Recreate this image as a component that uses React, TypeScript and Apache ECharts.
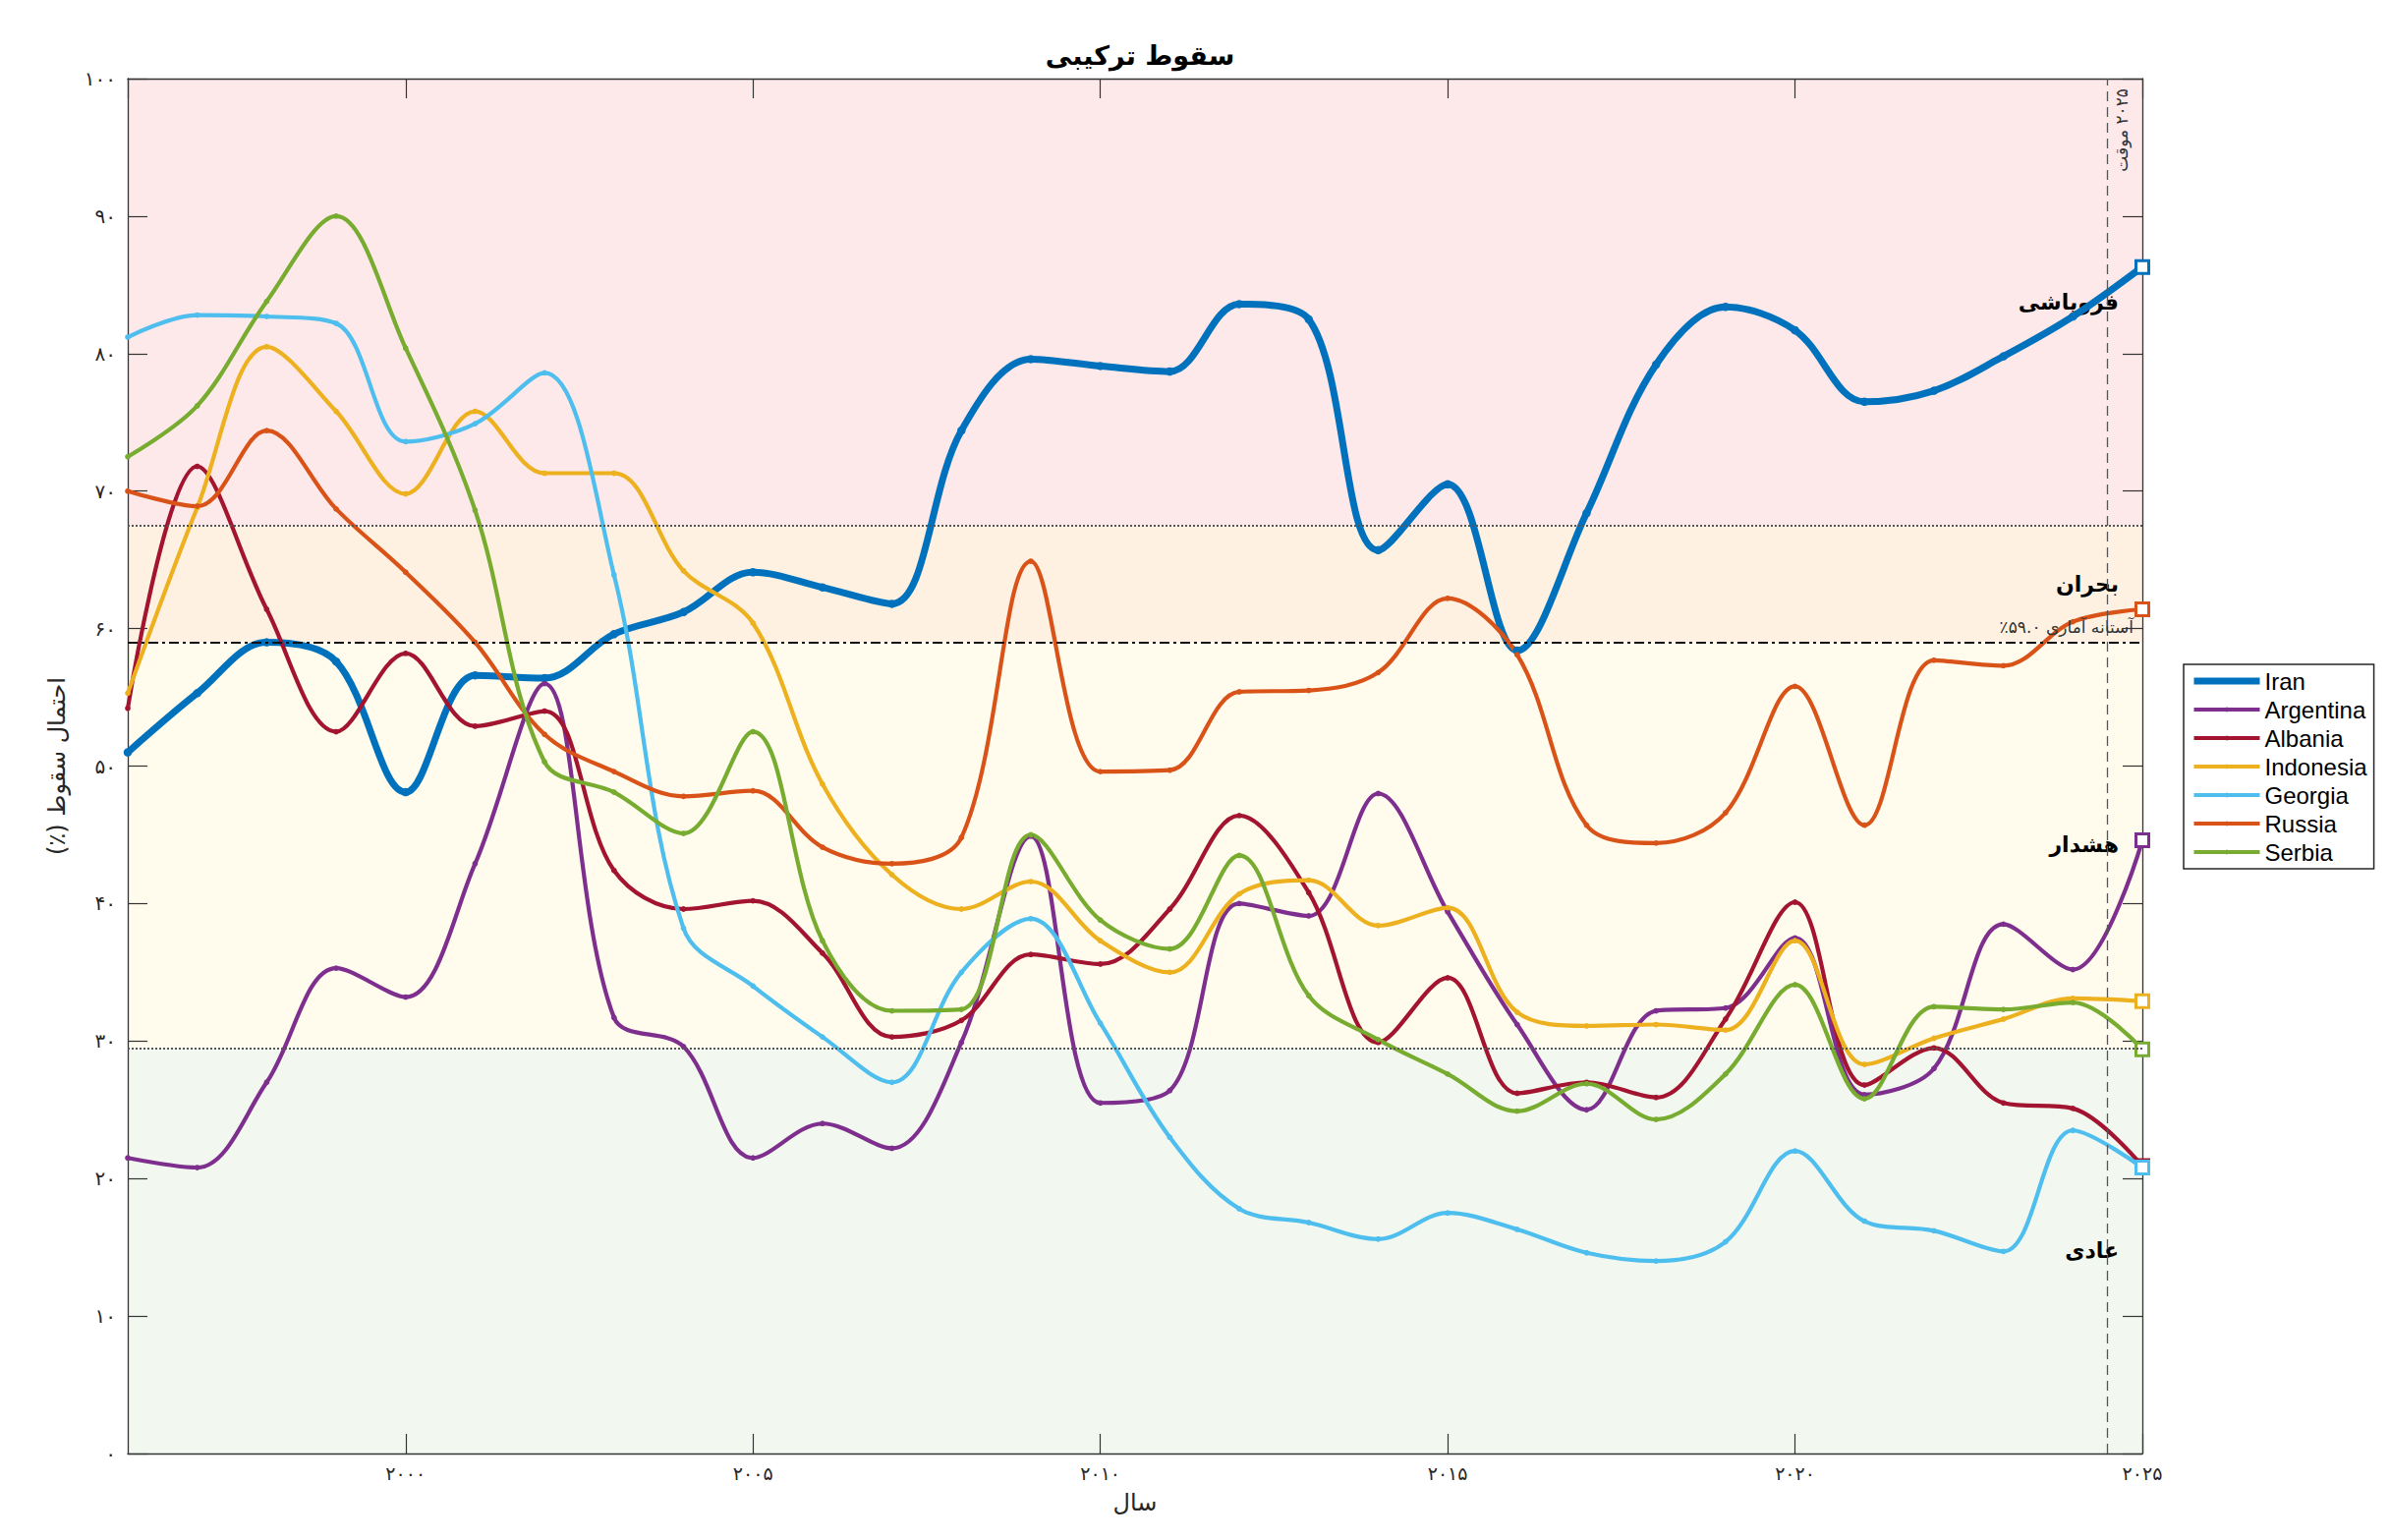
import React, { useEffect, useRef } from 'react';
import * as echarts from 'echarts';

// ---------------- data ----------------
const YEARS = [1996, 1997, 1998, 1999, 2000, 2001, 2002, 2003, 2004, 2005, 2006, 2007, 2008, 2009, 2010, 2011, 2012, 2013, 2014, 2015, 2016, 2017, 2018, 2019, 2020, 2021, 2022, 2023, 2024, 2025];

const IRAN = [51.0, 55.3, 59.0, 57.6, 48.1, 56.6, 56.4, 59.6, 61.2, 64.1, 63.0, 61.8, 74.4, 79.6, 79.1, 78.7, 83.6, 82.5, 65.7, 70.5, 58.4, 68.4, 79.2, 83.4, 81.7, 76.5, 77.3, 79.8, 82.7, 86.3];
const ARGENTINA = [21.5, 20.8, 27.0, 35.3, 33.2, 42.9, 56.0, 31.7, 29.6, 21.5, 24.0, 22.2, 29.9, 44.9, 25.5, 26.4, 40.0, 39.1, 48.0, 39.4, 31.2, 25.0, 32.2, 32.4, 37.5, 26.1, 28.0, 38.5, 35.2, 44.6];
const ALBANIA = [54.2, 71.8, 61.4, 52.5, 58.2, 52.9, 54.0, 42.4, 39.6, 40.2, 36.4, 30.3, 31.5, 36.3, 35.6, 39.6, 46.4, 40.8, 29.9, 34.6, 26.2, 27.0, 25.9, 31.6, 40.1, 26.8, 29.5, 25.5, 25.1, 20.9];
const INDONESIA = [55.3, 68.8, 80.5, 75.8, 69.8, 75.8, 71.3, 71.3, 64.2, 60.4, 48.7, 42.1, 39.6, 41.6, 37.3, 35.0, 40.7, 41.7, 38.4, 39.7, 32.1, 31.1, 31.2, 30.8, 37.3, 28.3, 30.2, 31.6, 33.1, 32.9];
const GEORGIA = [81.2, 82.8, 82.7, 82.2, 73.6, 74.9, 78.6, 63.9, 38.2, 34.0, 30.3, 27.0, 35.0, 38.9, 31.3, 23.0, 17.8, 16.8, 15.6, 17.5, 16.3, 14.6, 14.0, 15.4, 22.0, 16.9, 16.2, 14.7, 23.5, 20.8];
const RUSSIA = [70.0, 68.9, 74.4, 68.7, 64.1, 59.0, 52.3, 49.6, 47.8, 48.2, 44.1, 42.9, 44.8, 64.9, 49.6, 49.7, 55.4, 55.5, 56.8, 62.2, 58.1, 45.7, 44.4, 46.6, 55.8, 45.7, 57.7, 57.3, 60.5, 61.4];
const SERBIA = [72.5, 76.2, 83.8, 90.0, 80.4, 68.6, 50.3, 48.1, 45.1, 52.5, 37.3, 32.2, 32.3, 45.0, 38.8, 36.7, 43.5, 33.3, 30.1, 27.6, 24.9, 26.9, 24.3, 27.6, 34.1, 25.8, 32.5, 32.3, 32.8, 29.4];

const SERIES_NAMES = ['Iran', 'Argentina', 'Albania', 'Indonesia', 'Georgia', 'Russia', 'Serbia'];
const SERIES_VALUES = [IRAN, ARGENTINA, ALBANIA, INDONESIA, GEORGIA, RUSSIA, SERBIA];

const BAND_EDGES = [0, 29.5, 59.0, 67.5, 100];
const BAND_LABELS = ['عادی', 'هشدار', 'بحران', 'فروپاشی'];
const THRESHOLD = 59.0;
const PROVISIONAL_X = 2024.5;
const PROVISIONAL_YEAR = 2025;

const TITLE = 'سقوط ترکیبی';
const X_NAME = 'سال';
const Y_NAME = 'احتمال سقوط (٪)';
const THRESHOLD_TEXT = 'آستانه آماری';
const PROVISIONAL_TEXT = 'موقت';

// ---------------- styles ----------------
const COLORS = ['#0072BD', '#7E2F8E', '#A2142F', '#EDB120', '#4DBEEE', '#D95319', '#77AC30'];
const WIDTHS = [7, 4.2, 4.2, 4.2, 4.2, 4.2, 4.2];
const BAND_COLORS = ['#f2f8f0', '#fffcee', '#fef1e2', '#fde9ea'];
const FA_FONT = 'DejaVu Sans';
const AXIS_COLOR = '#333333';
const RLM = '\u200F';

const FA_DIGITS = '۰۱۲۳۴۵۶۷۸۹';
const toFa = (v: number | string) => String(v).replace(/[0-9]/g, (d) => FA_DIGITS[+d]);

function buildOption() {
  const lineSeries = SERIES_NAMES.map((name, s) => {
    const color = COLORS[s];
    const values = SERIES_VALUES[s];
    return {
      name,
      type: 'line',
      smooth: 0.35,
      showSymbol: true,
      showAllSymbol: true,
      symbol: 'circle',
      symbolSize: WIDTHS[s] + 1.5,
      lineStyle: { color, width: WIDTHS[s] },
      itemStyle: { color },
      emphasis: { disabled: true },
      z: 2,
      data: values.map((v, i) =>
        i === values.length - 1
          ? {
              value: [YEARS[i], v],
              symbol: 'rect',
              symbolSize: 13,
              itemStyle: { color: '#ffffff', borderColor: color, borderWidth: 3 },
            }
          : [YEARS[i], v]
      ),
    };
  });

  const dotted = { color: '#555555', width: 1.8, type: [2, 2] };

  const bandsSeries = {
    name: '__bands',
    type: 'line',
    data: [],
    z: 0,
    silent: true,
    markArea: {
      silent: true,
      label: { show: false },
      data: BAND_COLORS.map((c, i) => [
        { yAxis: BAND_EDGES[i], itemStyle: { color: c } },
        { yAxis: BAND_EDGES[i + 1] },
      ]),
    },
    markLine: {
      silent: true,
      symbol: ['none', 'none'],
      animation: false,
      data: [
        { yAxis: BAND_EDGES[1], lineStyle: dotted, label: { show: false } },
        { yAxis: BAND_EDGES[3], lineStyle: dotted, label: { show: false } },
        {
          yAxis: THRESHOLD,
          lineStyle: { color: '#111111', width: 2.2, type: [10, 4, 3, 4] },
          label: {
            show: true,
            position: 'insideEndTop',
            distance: [9, 7],
            formatter: RLM + THRESHOLD_TEXT + ' ' + toFa(THRESHOLD.toFixed(1)) + '٪' + RLM,
            fontFamily: FA_FONT,
            fontSize: 17,
            color: '#333333',
          },
        },
        {
          xAxis: PROVISIONAL_X,
          lineStyle: { color: '#555555', width: 1.3, type: [10, 6] },
          label: {
            show: true,
            position: 'insideEndBottom',
            distance: [10, 6],
            formatter: RLM + toFa(PROVISIONAL_YEAR) + ' ' + PROVISIONAL_TEXT,
            fontFamily: FA_FONT,
            fontSize: 17,
            color: '#333333',
          },
        },
      ],
    },
  };

  const bandLabelSeries = {
    name: '__bandLabels',
    type: 'line',
    data: [],
    z: 5,
    silent: true,
    markArea: {
      silent: true,
      itemStyle: { color: 'rgba(0,0,0,0)' },
      label: {
        show: true,
        position: 'insideRight',
        distance: 24,
        fontFamily: FA_FONT,
        fontSize: 22,
        fontWeight: 'bold',
        color: '#000000',
      },
      data: BAND_LABELS.map((name, i) => [
        { name, yAxis: BAND_EDGES[i] },
        { yAxis: BAND_EDGES[i + 1] },
      ]),
    },
  };

  const tick = { show: true, inside: true, length: 20, lineStyle: { color: AXIS_COLOR, width: 1.2 } };
  const axisLine = { show: true, onZero: false, lineStyle: { color: AXIS_COLOR, width: 1.3 } };
  const split = { show: true, lineStyle: { color: 'rgba(0,0,0,0.09)', width: 1 } };

  return {
    animation: false,
    backgroundColor: '#ffffff',
    title: {
      text: TITLE,
      left: 1155,
      top: 38,
      textAlign: 'center',
      textStyle: { fontFamily: FA_FONT, fontSize: 27, fontWeight: 'bold', color: '#000000' },
    },
    grid: { left: 130, top: 80, width: 2050, height: 1399, containLabel: false, outerBoundsMode: 'none' },
    legend: {
      data: SERIES_NAMES.map((name, s) => ({
        name,
        lineStyle: { width: WIDTHS[s], color: COLORS[s] },
      })),
      orient: 'vertical',
      left: 2222,
      top: 676,
      padding: [4, 7, 4, 7],
      itemWidth: 67,
      itemHeight: 6,
      itemGap: 3,
      backgroundColor: '#ffffff',
      borderColor: '#262626',
      borderWidth: 1.5,
      borderRadius: 0,
      selectedMode: false,
      lineStyle: { width: 'inherit' },
      textStyle: { fontFamily: 'Liberation Sans, Arial, sans-serif', fontSize: 24, color: '#000000', lineHeight: 26 },
    },
    xAxis: [
      {
        type: 'value',
        min: YEARS[0],
        max: YEARS[YEARS.length - 1],
        z: 1,
        axisLine,
        axisTick: tick,
        splitLine: split,
        axisLabel: {
          showMinLabel: false,
          margin: 10,
          formatter: (v: number) => toFa(v),
          fontFamily: FA_FONT,
          fontSize: 19,
          color: '#262626',
        },
        name: X_NAME,
        nameLocation: 'middle',
        nameGap: 38,
        nameTextStyle: { fontFamily: FA_FONT, fontSize: 24, color: '#262626' },
      },
      {
        type: 'value',
        position: 'top',
        min: YEARS[0],
        max: YEARS[YEARS.length - 1],
        z: 1,
        axisLine,
        axisTick: tick,
        splitLine: { show: false },
        axisLabel: { show: false },
      },
    ],
    yAxis: [
      {
        type: 'value',
        min: 0,
        max: 100,
        interval: 10,
        position: 'left',
        z: 1,
        axisLine,
        axisTick: tick,
        splitLine: split,
        axisLabel: {
          margin: 12,
          formatter: (v: number) => toFa(v),
          fontFamily: FA_FONT,
          fontSize: 20,
          color: '#262626',
        },
        name: Y_NAME + RLM,
        nameLocation: 'middle',
        nameGap: 60,
        nameTextStyle: { fontFamily: FA_FONT, fontSize: 24, color: '#262626' },
      },
      {
        type: 'value',
        min: 0,
        max: 100,
        interval: 10,
        position: 'right',
        z: 1,
        axisLine,
        axisTick: tick,
        splitLine: { show: false },
        axisLabel: { show: false },
      },
    ],
    series: [bandsSeries, ...lineSeries, bandLabelSeries],
  };
}

export default function App() {
  const ref = useRef<HTMLDivElement>(null);
  useEffect(() => {
    if (!ref.current) return;
    const chart = echarts.init(ref.current, null, { renderer: 'svg' });
    chart.setOption(buildOption() as any);
    return () => chart.dispose();
  }, []);
  return (
    <div
      ref={ref}
      style={{ position: 'fixed', left: 0, top: 0, width: 2432, height: 1567, background: '#ffffff' }}
    />
  );
}
